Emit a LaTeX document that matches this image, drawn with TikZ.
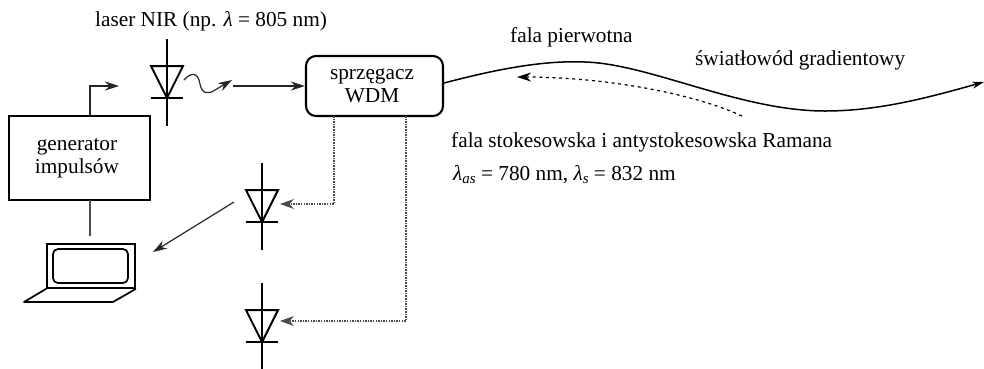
\documentclass[tikz,border=0pt]{standalone}
\usepackage{fontspec}
\setmainfont{Liberation Serif}
\usetikzlibrary{arrows.meta}
\newcommand{\lam}{\textit{λ}}
\newcommand{\boxline}[1]{\raisebox{-2pt}{\hspace*{-5pt}#1}}
\tikzset{
  x=1pt,y=-1pt,
  lbl/.style={inner sep=0pt,anchor=base west,font=\fontsize{21.3}{24}\selectfont},
  box/.style={draw=black,inner sep=0pt,align=center,font=\fontsize{21.3}{23}\selectfont},
  conn/.style={draw=black!85,line width=1.2pt,-{Stealth[length=14pt,width=9pt]}},
  wire/.style={draw=black!70,line width=1.3pt},
  fibre/.style={draw=black,line width=1.5pt},
  back/.style={draw=black,line width=1.2pt,dash pattern=on 3pt off 3.6pt,-{Stealth[length=14pt,width=9pt]}},
  tap/.style={draw=black!70,line width=1.5pt,dash pattern=on 1.5pt off 1.1pt,-{Stealth[length=14pt,width=10pt]}},
  diode/.pic={
    \draw[line width=2pt] (0,-29) -- (0,58);
    \draw[line width=2pt] (-16,-2) -- (16,-2) -- (0,30) -- cycle;
    \draw[line width=2pt] (-16,30) -- (16,30);
  }
}
\begin{document}
\begin{tikzpicture}
\useasboundingbox (0,0) rectangle (984,368);

% sources, couplers and detectors
\pic at (167,68) {diode};
\pic at (262,192) {diode};
\pic at (262,312) {diode};
\node[box,line width=2.8pt,minimum width=141pt,minimum height=84pt] (gen) at (79.5,158) {\boxline{generator}\\\boxline{impulsów}};
\node[box,line width=2.1pt,rounded corners=10pt,minimum width=137pt,minimum height=60pt] (wdm) at (374.5,86) {\boxline{sprzęgacz}\\\boxline{WDM}};

% laptop
\node[draw=black,line width=1.7pt,inner sep=0pt,minimum width=88pt,minimum height=44pt] (screen) at (91,266) {};
\node[draw=black,line width=1.7pt,inner sep=0pt,rounded corners=5pt,minimum width=75pt,minimum height=34pt] (panel) at (90.5,266) {};
\draw[line width=1.7pt,line join=round] (screen.south west) -- (24,302) -- (113,302) -- (screen.south east);

% anchor points of the connectors
\coordinate (genUp) at (90,116);
\coordinate (genTurn) at (90,86);
\coordinate (laserIn) at (119,86);
\coordinate (waveStart) at (184,80);
\coordinate (waveEnd) at (232,80);
\coordinate (beamStart) at (233,86);
\coordinate (wdmIn) at (wdm.west);
\coordinate (fibreStart) at (444,83);
\coordinate (fibreEnd) at (984,82);
\coordinate (backStart) at (742,116);
\coordinate (backEnd) at (517,77);
\coordinate (tapA) at (334,116);
\coordinate (tapATurn) at (334,204);
\coordinate (detA) at (280,204);
\coordinate (tapB) at (406,116);
\coordinate (tapBTurn) at (406,321);
\coordinate (detB) at (280,321);
\coordinate (detOut) at (234,202);
\coordinate (laptopIn) at (153,252);
\coordinate (genDown) at (90,200);
\coordinate (laptopTop) at (90,236);

% connectors
\draw[conn] (genUp) -- (genTurn) -- (laserIn);
\draw[conn] (waveStart) .. controls (191,72) and (198,72) .. (200,84)
  .. controls (202,95) and (209,94) .. (215,90) -- (waveEnd);
\draw[conn] (beamStart) -- (wdmIn);
\draw[fibre,-{Stealth[length=12pt,width=7pt]}] (fibreStart) .. controls (490,71) and (540,60) .. (585,62)
  .. controls (650,64) and (740,111) .. (825,111)
  .. controls (880,111) and (930,97) .. (fibreEnd);
\draw[back] (backStart) .. controls (690,92) and (600,77) .. (backEnd);
\draw[tap] (tapA) -- (tapATurn) -- (detA);
\draw[tap] (tapB) -- (tapBTurn) -- (detB);
\draw[conn] (detOut) -- (laptopIn);
\draw[wire] (genDown) -- (laptopTop);

% labels
\node[lbl] (laserLbl) at (95,26) {laser NIR (np. \lam{} = 805 nm)};
\node[lbl] (primaryLbl) at (510,42) {fala pierwotna};
\node[lbl] (fibreLbl) at (695,65) {światłowód gradientowy};
\node[lbl] (ramanLbl) at (451,147) {fala stokesowska i antystokesowska Ramana};
\node[lbl] (lambdaLbl) at (453,180) {\lam\raisebox{-3pt}{\fontsize{15}{16}\selectfont\textit{as}} = 780 nm, \lam\raisebox{-3pt}{\fontsize{15}{16}\selectfont\textit{s}} = 832 nm};
\end{tikzpicture}
\end{document}
